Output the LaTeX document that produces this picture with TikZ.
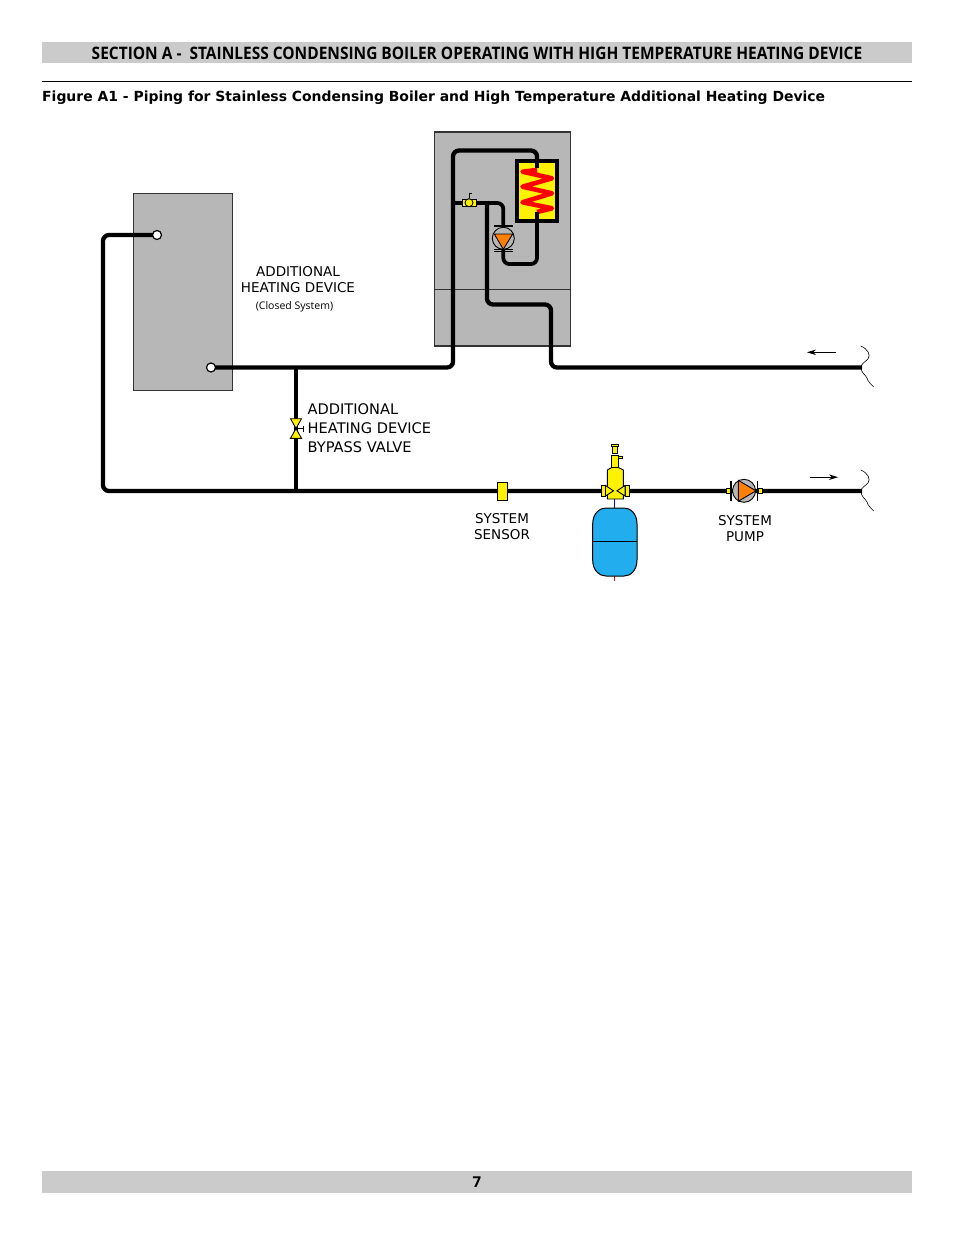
\documentclass[tikz,border=0pt]{standalone}
\usepackage{fontspec}
\setmainfont{DejaVu Sans}
\newfontfamily\headfont{Open Sans}
\newfontfamily\smallfont{Open Sans}
\definecolor{bargray}{HTML}{CBCBCB}
\definecolor{boxgray}{HTML}{B7B7B7}
\definecolor{tankblue}{HTML}{22AEEE}
\definecolor{pumporange}{HTML}{FF7F00}
\tikzset{
  bar/.style={fill=bargray,draw=none,minimum width=870pt,inner sep=0pt},
  unit/.style={draw=black!80,fill=boxgray,line width=1.2pt,inner sep=0pt},
  pipe/.style={line width=4.3pt,black,rounded corners=6pt},
  port/.style={circle,draw=black,fill=white,line width=1.2pt,minimum size=9pt,inner sep=0pt},
  ylw/.style={draw=black,fill=yellow,line width=.9pt},
  thinl/.style={draw=black,line width=.9pt},
  breakline/.style={draw=black,line width=.6pt},
  flow/.style={draw=black,line width=.8pt,-{Stealth[length=9pt,width=5.5pt]}},
  lab/.style={inner sep=0pt,align=center,font=\fontsize{13.5}{16}\selectfont},
  biglab/.style={inner sep=0pt,anchor=west,font=\fontsize{14.6}{19}\selectfont}
}
\usetikzlibrary{arrows.meta}
\begin{document}
\begin{tikzpicture}[x=1pt,y=-1pt]
\useasboundingbox (0,0) rectangle (954,1235);
\fill[white] (0,0) rectangle (954,1235);
% header
\node[bar,minimum height=21pt] (hbar) at (477,52.5) {};
\node[inner sep=0pt,xscale=.90] (htext) at (477,53) {\headfont\bfseries\fontsize{17.2}{20}\selectfont SECTION A -\ \ STAINLESS CONDENSING BOILER OPERATING WITH HIGH TEMPERATURE HEATING DEVICE};
\coordinate (r1) at (42,81.5); \coordinate (r2) at (912,81.5);
\draw[black,line width=.7pt] (r1) -- (r2);
\node[inner sep=0pt,anchor=west] (fig) at (42,98) {\bfseries\fontsize{13.94}{16}\selectfont Figure A1 - Piping for Stainless Condensing Boiler and High Temperature Additional Heating Device};
% footer
\node[bar,minimum height=22pt] (fbar) at (477,1182) {};
\node[inner sep=0pt] (pg) at (477,1182) {\headfont\bfseries\fontsize{15}{18}\selectfont 7};
% units
\node[unit,minimum width=99pt,minimum height=197pt] (heater) at (183,292) {};
\node[unit,minimum width=135.5pt,minimum height=214pt] (boiler) at (502.5,239) {};
\draw[black!80,line width=1.2pt] (boiler.west |- 0,289.5) -- (boiler.east |- 0,289.5);
% coordinates
\coordinate (hTop) at (157,235);
\coordinate (hBot) at (211,367.5);
\coordinate (c1) at (103,235);
\coordinate (c2) at (103,491);
\coordinate (supEnd) at (862,491);
\coordinate (retEnd) at (862,367.5);
\coordinate (c3) at (453,367.5);
\coordinate (c4) at (453,150.5);
\coordinate (c5) at (537,150.5);
\coordinate (hxIn) at (537,168);
\coordinate (hxOut) at (537,212);
\coordinate (c6) at (537,264);
\coordinate (c7) at (503.3,264);
\coordinate (pumpB) at (503.3,238);
\coordinate (pumpT) at (503.3,226);
\coordinate (c8) at (503.3,203);
\coordinate (tapL) at (453,203);
\coordinate (tapM) at (487,203);
\coordinate (c9) at (487,304.5);
\coordinate (c10) at (551,304.5);
\coordinate (c11) at (551,367.5);
\coordinate (bpT) at (296,367.5);
\coordinate (bpB) at (296,491);
% pipes
\draw[pipe] (hTop) -- (c1) -- (c2) -- (supEnd);
\draw[pipe] (hBot) -- (c3) -- (c4) -- (c5) -- (hxIn);
\draw[pipe,line width=3.8pt] (tapL) -- (c8) -- (pumpT);
\draw[pipe,line width=3.8pt] (hxOut) -- (c6) -- (c7) -- (pumpB);
\draw[pipe] (tapM) -- (c9) -- (c10) -- (c11) -- (retEnd);
\draw[black,line width=3.6pt] (bpT) -- (bpB);
% ports
\node[port] (p1) at (hTop) {};
\node[port] (p2) at (hBot) {};
% heat exchanger
\draw[draw=black,fill=yellow,line width=3.8pt] (516.8,160.8) rectangle (557,221);
\draw[red,line width=4.6pt,line join=round] (537,170) -- (522.5,171.7) -- (552,178.3) -- (522.5,186.7) -- (552,193.3) -- (522.5,202.3) -- (552,208.3) -- (537,212);
\draw[black,line width=3.8pt] (537,160) -- (hxIn);
\draw[black,line width=3.8pt] (hxOut) -- (537,222);
% boiler pump
\node[circle,draw=black,fill=boxgray,line width=.9pt,minimum size=22pt,inner sep=0pt] (bp) at (503.3,238.3) {};
\draw[thinl,fill=pumporange] (494.3,234) -- (512.7,234) -- (503.3,249.3) -- cycle;
\draw[black,line width=1.2pt] (494,226) -- (513,226);
\draw[black,line width=.9pt] (494,249.5) -- (513,249.5) (494,251.5) -- (513,251.5);
% boiler valve
\draw[thinl] (469,198) -- (469,193.5) -- (471.5,193.5);
\node[ylw,minimum width=14pt,minimum height=6.5pt,inner sep=0pt] (bv) at (469,202.7) {};
\node[circle,ylw,minimum size=8pt,inner sep=0pt] (bvc) at (469,202.7) {};
% bypass valve
\draw[thinl] (296,428.5) -- (303,428.5) (303,425.5) -- (303,431.5);
\draw[ylw] (290.5,418.7) -- (301.5,418.7) -- (296,428.5) -- cycle;
\draw[ylw] (290.5,438.3) -- (301.5,438.3) -- (296,428.5) -- cycle;
% sensor
\node[ylw,minimum width=10pt,minimum height=18pt,inner sep=0pt] (sensor) at (502,491) {};
% expansion tank + vent
\draw[blue,line width=1.2pt] (614.7,497) -- (614.7,508);
\draw[red,line width=1.4pt] (614.7,575) -- (614.7,580.5);
\draw[draw=black,fill=tankblue,line width=1pt] (592.7,524) .. controls (592.7,513) and (600,508) .. (606,508) -- (624,508) .. controls (630,508) and (637,513) .. (637,524) -- (637,560) .. controls (637,571) and (630,576) .. (624,576) -- (606,576) .. controls (600,576) and (592.7,571) .. (592.7,560) -- cycle;
\coordinate (tL) at (592.7,541.7); \coordinate (tR) at (637,541.7);
\draw[black,line width=1pt] (tL) -- (tR);
\draw[ylw] (607.3,499) -- (607.3,470) -- (611.7,467.5) -- (618.3,467.5) -- (623.3,470) -- (623.3,499) -- cycle;
\draw[ylw] (611.7,467.5) rectangle (618.3,455.5);
\draw[ylw] (618.3,456) rectangle (622,458);
\draw[ylw] (612.5,453.5) rectangle (617.5,446.5);
\draw[ylw] (611.5,446.5) rectangle (618.5,444);
\draw[ylw] (601.5,485) rectangle (605.5,496.5);
\draw[ylw] (625,485) rectangle (629,496.5);
\draw[ylw] (605.5,485.5) -- (613.5,490.8) -- (605.5,496) -- cycle;
\draw[ylw] (625,485.5) -- (617,490.8) -- (625,496) -- cycle;
% system pump
\node[ylw,minimum width=4pt,minimum height=5pt,inner sep=0pt] (n1) at (728.5,490.8) {};
\node[ylw,minimum width=4pt,minimum height=5pt,inner sep=0pt] (n2) at (760.5,490.8) {};
\node[circle,draw=black,fill=boxgray,line width=.9pt,minimum size=23pt,inner sep=0pt] (sp) at (744,490.8) {};
\draw[thinl,fill=pumporange] (738.3,480.3) -- (756,490.8) -- (738.3,501.3) -- cycle;
\draw[black,line width=1.4pt] (731,480.5) -- (731,501) (757.3,480.5) -- (757.3,501);
% flow arrows
\coordinate (f1a) at (835.7,352.3); \coordinate (f1b) at (807,352.3);
\coordinate (f2a) at (810,477.2); \coordinate (f2b) at (838,477.2);
\draw[flow] (f1a) -- (f1b);
\draw[flow] (f2a) -- (f2b);
% pipe breaks
\draw[breakline] (860.7,346) .. controls (868,349) and (871,355) .. (868,359) .. controls (865,362) and (861,364) .. (861,367.3) .. controls (861,373) and (865,374) .. (867,378) .. controls (868,382) and (871,384) .. (873.7,387);
\draw[breakline] (860.7,470) .. controls (868,473) and (871,479) .. (868,483) .. controls (865,486) and (861,488) .. (861,491) .. controls (861,497) and (865,498) .. (867,502) .. controls (868,506) and (871,508) .. (873.7,511);
% labels
\node[lab] (l1) at (298,279.5) {ADDITIONAL\\HEATING DEVICE};
\node[inner sep=0pt] (l2) at (294.5,306.5) {\smallfont\fontsize{10.5}{12}\selectfont (Closed System)};
\node[biglab] (l3) at (307.5,409) {ADDITIONAL};
\node[biglab] (l4) at (307.5,428) {HEATING DEVICE};
\node[biglab] (l5) at (307.5,447) {BYPASS VALVE};
\node[lab] (l6) at (502,526.5) {SYSTEM\\SENSOR};
\node[lab] (l7) at (745,528.5) {SYSTEM\\PUMP};
\end{tikzpicture}
\end{document}
